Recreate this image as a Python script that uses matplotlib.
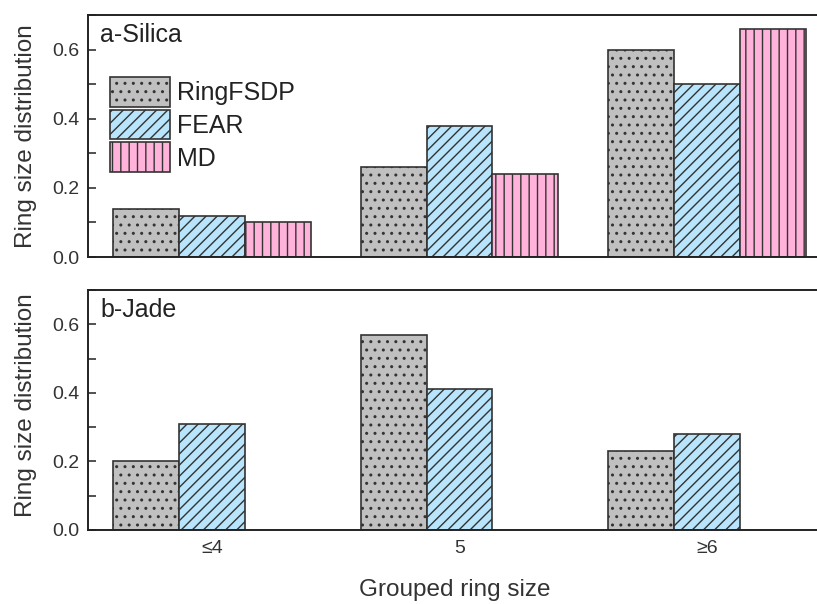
import numpy as np
import matplotlib
matplotlib.use("Agg")
from matplotlib import pyplot as plt
from matplotlib.ticker import MultipleLocator

plt.rcParams['font.family'] = ['Liberation Sans', 'DejaVu Sans']
plt.rcParams['hatch.linewidth'] = 1.0

groups = ["≤4", "5", "≥6"]
series = ["RingFSDP", "FEAR", "MD"]

silica_ringfsdp = [0.14, 0.26, 0.60]
silica_fear = [0.12, 0.38, 0.50]
silica_md = [0.10, 0.24, 0.66]

jade_ringfsdp = [0.20, 0.57, 0.23]
jade_fear = [0.31, 0.41, 0.28]

colors = ["#c0c0c0", "#b8e4fc", "#ffb3da"]
hatches = ["..", "///", "||"]
edge = "#333333"
txt = "#333333"

x = np.arange(len(groups))
w = 0.266

fig = plt.figure(figsize=(8.17, 6.04), dpi=100)
ax1 = fig.add_axes([88/817, 1-257/604, 743/817, 242/604])
ax2 = fig.add_axes([88/817, 1-530/604, 743/817, 240/604])

def draw(ax, data, name, ylab_y):
	for i, vals in enumerate(data):
		ax.bar(x+(i-1)*w, vals, w, color=colors[i], hatch=hatches[i],
			edgecolor=edge, linewidth=1.2, label=series[i])
	ax.set_xlim(-0.5, 2.5)
	ax.set_ylim(0, 0.7)
	ax.yaxis.set_major_locator(MultipleLocator(0.2))
	ax.yaxis.set_minor_locator(MultipleLocator(0.1))
	ax.tick_params(axis='y', which='both', direction='in', length=6, width=1.2, labelsize=14, colors=txt, pad=6)
	ax.tick_params(axis='x', length=0, labelsize=14, colors=txt, pad=7)
	ax.set_xticks(x)
	ax.set_xticklabels(groups)
	ax.spines['right'].set_visible(False)
	for s in ['left', 'top', 'bottom']:
		ax.spines[s].set_linewidth(1.4)
		ax.spines[s].set_color('#222222')
	ax.set_ylabel("Ring size distribution", fontsize=17.5, color=txt)
	ax.yaxis.set_label_coords(-0.068, ylab_y)
	# panel tag in the upper-left corner
	ax.text(12/743, 1-8/ax.bbox.height, name, transform=ax.transAxes, fontsize=18, color='#222222', va='top')

draw(ax1, [silica_ringfsdp, silica_fear, silica_md], "a-Silica", 0.5)
draw(ax2, [jade_ringfsdp, jade_fear], "b-Jade", 0.52)
ax1.tick_params(axis='x', labelbottom=False)
ax1.legend(loc='upper left', bbox_to_anchor=(22/743, 1-62/242), frameon=False, fontsize=18,
	handlelength=2.4, handleheight=1.45, labelspacing=0.12, handletextpad=0.28,
	borderaxespad=0, borderpad=0, labelcolor='#222222')
ax2.set_xlabel("Grouped ring size", fontsize=17.5, color=txt)
ax2.xaxis.set_label_coords(367/743, -0.205)

fig.savefig("out.png", dpi=100)
